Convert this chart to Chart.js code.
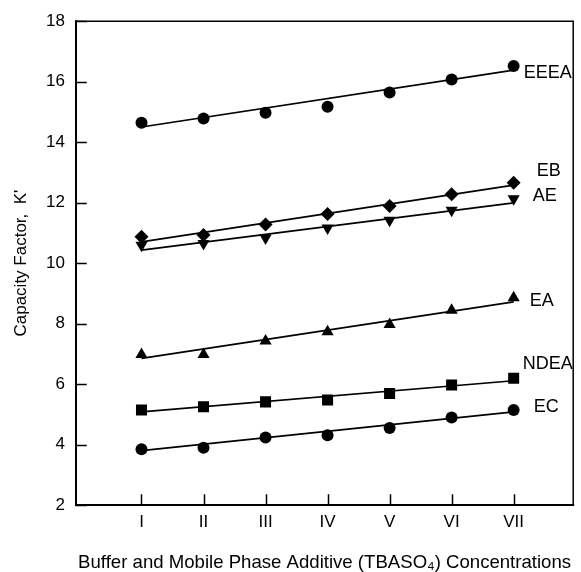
<!DOCTYPE html>
<html>
<head>
<meta charset="utf-8">
<script src="https://cdn.jsdelivr.net/npm/chart.js@4"></script>
<style>
  html, body { margin: 0; padding: 0; background: #fff; }
  canvas { display: block; }
</style>
</head>
<body>
<canvas id="chart" width="581" height="572"></canvas>
<script>
// Buffer / mobile phase additive levels
const concentrations = ['I', 'II', 'III', 'IV', 'V', 'VI', 'VII'];

// Capacity factor K' measured at each level
const eeea = [14.64, 14.78, 14.97, 15.17, 15.64, 16.07, 16.52];
const eb   = [10.87, 10.93, 11.28, 11.62, 11.89, 12.28, 12.66];
const ae   = [10.59, 10.65, 10.83, 11.16, 11.42, 11.75, 12.13];
const ea   = [6.98, 6.98, 7.42, 7.73, 7.97, 8.44, 8.85];
const ndea = [5.14, 5.25, 5.41, 5.47, 5.69, 5.97, 6.19];
const ec   = [3.84, 3.89, 4.23, 4.31, 4.55, 4.89, 5.14];

// Linear fit values at the first (I) and last (VII) level
const fitEEEA = [14.50, 16.38];
const fitEB   = [10.70, 12.58];
const fitAE   = [10.43, 11.99];
const fitEA   = [6.85, 8.72];
const fitNDEA = [5.08, 6.11];
const fitEC   = [3.80, 5.08];

// Axis ticks
const yTicks = [2, 4, 6, 8, 10, 12, 14, 16, 18];

const series = [
  { name: 'EEEA', values: eeea, fit: fitEEEA, style: 'circle',   radius: 6,   rotation: 0,   dx: 10, dy: 7 },
  { name: 'EB',   values: eb,   fit: fitEB,   style: 'rectRot',  radius: 7,   rotation: 0,   dx: 23, dy: -12 },
  { name: 'AE',   values: ae,   fit: fitAE,   style: 'triangle', radius: 7,   rotation: 180, dx: 19, dy: -3 },
  { name: 'EA',   values: ea,   fit: fitEA,   style: 'triangle', radius: 7,   rotation: 0,   dx: 16, dy: 3 },
  { name: 'NDEA', values: ndea, fit: fitNDEA, style: 'rect',     radius: 7.8, rotation: 0,   dx: 9,  dy: -14 },
  { name: 'EC',   values: ec,   fit: fitEC,   style: 'circle',   radius: 6,   rotation: 0,   dx: 20, dy: -3 }
];

const datasets = [];
series.forEach(s => {
  datasets.push({
    label: s.name + ' fit',
    data: [{ x: 0, y: s.fit[0] }, { x: concentrations.length - 1, y: s.fit[1] }],
    showLine: true,
    borderColor: '#000',
    borderWidth: 1.7,
    pointRadius: 0,
    order: 2
  });
  datasets.push({
    label: s.name,
    data: s.values.map((v, i) => ({ x: i, y: v })),
    showLine: false,
    pointStyle: s.style,
    pointRadius: s.radius,
    pointRotation: s.rotation,
    backgroundColor: '#000',
    borderColor: '#000',
    borderWidth: 0,
    order: 1
  });
});

// Box frame with short inward tick marks
const framePlugin = {
  id: 'frame',
  beforeDatasetsDraw(chart) {
    const { ctx, chartArea: a, scales: { x, y } } = chart;
    ctx.save();
    ctx.strokeStyle = '#000';
    ctx.lineCap = 'square';
    ctx.lineWidth = 2;
    ctx.beginPath();
    ctx.moveTo(a.left, a.top);
    ctx.lineTo(a.left, a.bottom);
    ctx.lineTo(a.right, a.bottom);
    ctx.stroke();
    ctx.lineWidth = 1.5;
    ctx.beginPath();
    ctx.moveTo(a.left, a.top);
    ctx.lineTo(a.right, a.top);
    ctx.lineTo(a.right, a.bottom);
    ctx.stroke();
    ctx.lineWidth = 1.5;
    ctx.beginPath();
    y.ticks.forEach(t => {
      const py = Math.round(y.getPixelForValue(t.value)) + 0.5;
      ctx.moveTo(a.left, py);
      ctx.lineTo(a.left + 10, py);
    });
    x.ticks.forEach(t => {
      const px = Math.round(x.getPixelForValue(t.value)) + 0.5;
      ctx.moveTo(px, a.bottom);
      ctx.lineTo(px, a.bottom - 10);
    });
    ctx.stroke();
    ctx.restore();
  }
};

// Series names written next to the last point of each series
const namePlugin = {
  id: 'seriesNames',
  afterDatasetsDraw(chart) {
    const { ctx } = chart;
    ctx.save();
    ctx.fillStyle = '#000';
    ctx.font = '18px "Liberation Sans", Arial, sans-serif';
    ctx.textAlign = 'left';
    ctx.textBaseline = 'middle';
    series.forEach((s, i) => {
      const meta = chart.getDatasetMeta(i * 2 + 1);
      const last = meta.data[meta.data.length - 1];
      ctx.fillText(s.name, last.x + s.dx, last.y + s.dy);
    });
    ctx.restore();
  }
};

new Chart(document.getElementById('chart'), {
  type: 'scatter',
  data: { datasets },
  plugins: [framePlugin, namePlugin],
  options: {
    responsive: false,
    animation: false,
    devicePixelRatio: 1,
    layout: { padding: { top: 21, right: 4, left: 0, bottom: 0 } },
    plugins: { legend: { display: false }, tooltip: { enabled: false } },
    scales: {
      x: {
        type: 'linear',
        min: -1.056,
        max: 6.96,
        afterBuildTicks: s => { s.ticks = concentrations.map((_, i) => ({ value: i })); },
        afterFit: s => { s.height = 67; },
        grid: { display: false, drawTicks: false },
        border: { display: false },
        ticks: {
          autoSkip: false,
          maxRotation: 0,
          padding: 7,
          color: '#000',
          font: { family: '"Liberation Sans", Arial, sans-serif', size: 17 },
          callback: v => concentrations[v] ?? ''
        },
        title: {
          display: true,
          text: 'Buffer and Mobile Phase Additive (TBASO\u2084) Concentrations',
          color: '#000',
          font: { family: '"Liberation Sans", Arial, sans-serif', size: 18.6, lineHeight: 1 },
          padding: { top: 0, bottom: 0 }
        }
      },
      y: {
        type: 'linear',
        min: 2,
        max: 18,
        afterBuildTicks: s => { s.ticks = yTicks.map(v => ({ value: v })); },
        afterFit: s => { s.width = 76; },
        grid: { display: false, drawTicks: false },
        border: { display: false },
        ticks: {
          padding: 11,
          color: '#000',
          font: { family: '"Liberation Sans", Arial, sans-serif', size: 17 }
        },
        title: {
          display: true,
          text: "Capacity Factor,  K'",
          color: '#000',
          font: { family: '"Liberation Sans", Arial, sans-serif', size: 17, lineHeight: 1 },
          padding: { top: 13, bottom: 0 }
        }
      }
    }
  }
});
</script>
</body>
</html>
